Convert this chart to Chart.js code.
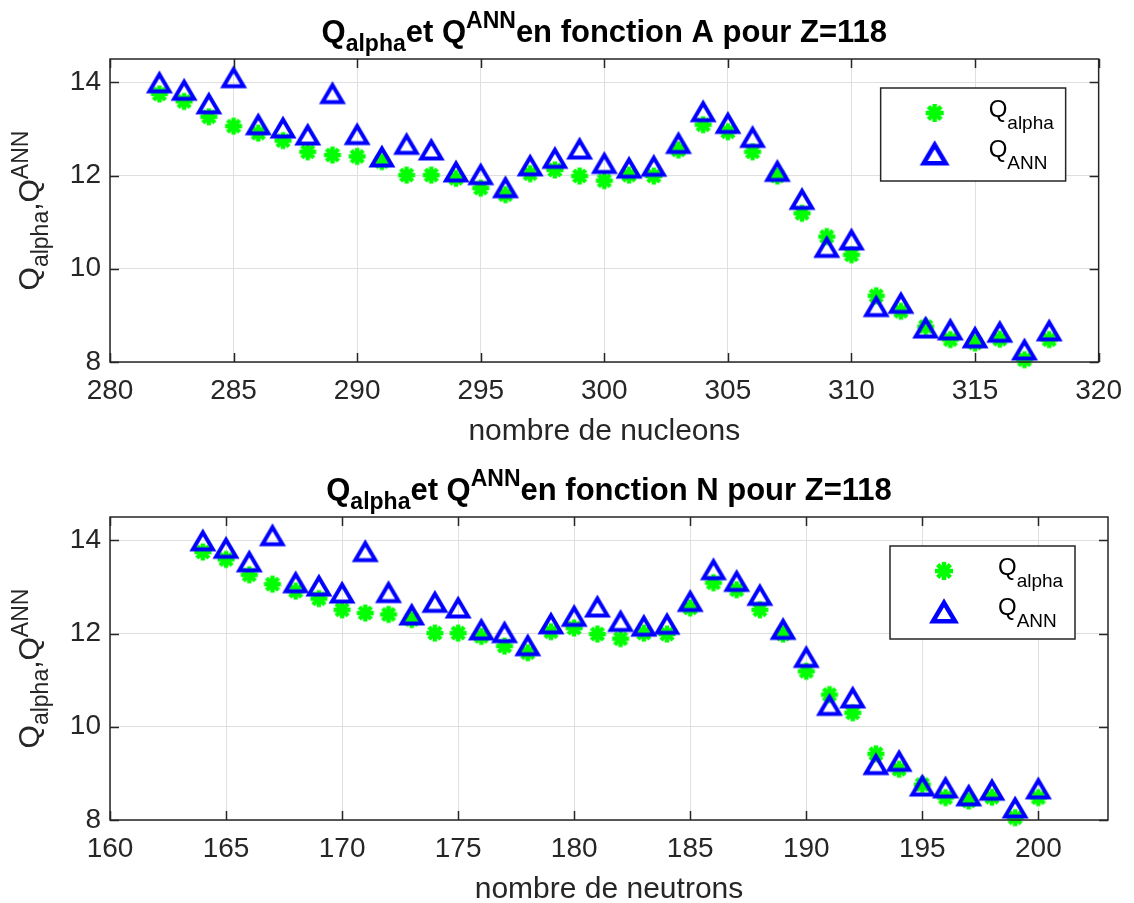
<!DOCTYPE html>
<html>
<head>
<meta charset="utf-8">
<script src="https://cdn.jsdelivr.net/npm/chart.js@4/dist/chart.umd.min.js"></script>
<style>
  html, body { margin: 0; padding: 0; background: #fff; }
  #wrap { position: relative; width: 1134px; height: 903px; }
  .box { position: absolute; left: 0; }
</style>
</head>
<body>
<div id="wrap">
  <div class="box" style="top:0"><canvas id="chart-a" width="1134" height="452"></canvas></div>
  <div class="box" style="top:452px"><canvas id="chart-n" width="1134" height="451"></canvas></div>
</div>
<script>
// mass number A and neutron number N (Z = 118)
const nucleons = [282, 283, 284, 285, 286, 287, 288, 289, 290, 291, 292, 293, 294, 295, 296, 297, 298, 299,
                  300, 301, 302, 303, 304, 305, 306, 307, 308, 309, 310, 311, 312, 313, 314, 315, 316, 317, 318];
const neutrons = [164, 165, 166, 167, 168, 169, 170, 171, 172, 173, 174, 175, 176, 177, 178, 179, 180, 181,
                  182, 183, 184, 185, 186, 187, 188, 189, 190, 191, 192, 193, 194, 195, 196, 197, 198, 199, 200];

const qAlpha = [13.75, 13.59, 13.26, 13.06, 12.91, 12.75, 12.51, 12.44, 12.41, 12.30, 12.01, 12.01, 11.94,
                11.73, 11.59, 12.04, 12.12, 11.99, 11.89, 12.01, 11.99, 12.55, 13.09, 12.94, 12.51, 11.99,
                11.19, 10.69, 10.30, 9.42, 9.09, 8.76, 8.48, 8.41, 8.49, 8.05, 8.48];
const qAnn   = [14.01, 13.85, 13.56, 14.12, 13.11, 13.04, 12.89, 13.78, 12.90, 12.42, 12.69, 12.57, 12.10,
                12.04, 11.76, 12.23, 12.39, 12.59, 12.28, 12.18, 12.22, 12.71, 13.39, 13.14, 12.84, 12.11,
                11.51, 10.48, 10.64, 9.21, 9.28, 8.75, 8.71, 8.54, 8.66, 8.28, 8.69];

const FONT = '"Liberation Sans", Arial, Helvetica, sans-serif';
const INK  = "#262626";
const GRID = "#dfdfdf";

// MATLAB-like markers drawn once on small canvases
function asteriskMarker(r, lw) {
  const c = document.createElement("canvas");
  const m = Math.ceil(r + lw) + 1;
  c.width = c.height = 2 * m;
  const g = c.getContext("2d");
  g.strokeStyle = "#00ff00";
  g.lineWidth = lw;
  for (let k = 0; k < 4; k++) {
    const a = k * Math.PI / 4, dx = Math.cos(a) * r, dy = Math.sin(a) * r;
    g.beginPath();
    g.moveTo(m - dx, m - dy);
    g.lineTo(m + dx, m + dy);
    g.stroke();
  }
  g.fillStyle = "#00ff00";
  g.beginPath();
  g.arc(m, m, r * 0.62, 0, Math.PI * 2);
  g.fill();
  return c;
}

function triangleMarker(hw, h, lw) {
  const c = document.createElement("canvas");
  c.width = c.height = 40;
  const g = c.getContext("2d");
  g.strokeStyle = "#0000ff";
  g.lineWidth = lw;
  g.lineJoin = "miter";
  g.beginPath();
  g.moveTo(20, 20 - h / 2 + 1);
  g.lineTo(20 + hw, 20 + h / 2 + 1);
  g.lineTo(20 - hw, 20 + h / 2 + 1);
  g.closePath();
  g.stroke();
  return c;
}

const STAR     = asteriskMarker(8.5, 4.5);
const TRI      = triangleMarker(10, 17, 4);
const STAR_LEG = asteriskMarker(9, 4.5);
const TRI_LEG  = triangleMarker(11, 18.5, 4.5);

// text with TeX-like sub/superscripts
function drawRich(ctx, parts, x, y, size, opt) {
  const small = Math.round(size * (opt.scale || 0.74));
  const w = opt.bold ? "bold " : "";
  let total = 0;
  parts.forEach(p => {
    ctx.font = `${w}${p.s ? small : size}px ${FONT}`;
    total += ctx.measureText(p.t).width;
  });
  let cx = opt.align === "center" ? x - total / 2 : x;
  ctx.textAlign = "left";
  ctx.textBaseline = "alphabetic";
  parts.forEach(p => {
    ctx.font = `${w}${p.s ? small : size}px ${FONT}`;
    const dy = p.s === "sub" ? size * (opt.sub || 0.3) : p.s === "sup" ? -size * (opt.sup || 0.45) : 0;
    ctx.fillText(p.t, cx, y + dy);
    cx += ctx.measureText(p.t).width;
  });
}

const Y_LABEL = [{ t: "Q" }, { t: "alpha", s: "sub" }, { t: "," }, { t: "Q" }, { t: "ANN", s: "sup" }];
const titleParts = what => [
  { t: "Q" }, { t: "alpha", s: "sub" }, { t: "et Q" }, { t: "ANN", s: "sup" },
  { t: `en fonction ${what} pour Z=118` },
];

const matlabFrame = {
  id: "matlabFrame",
  afterDraw(chart, args, o) {
    const { ctx, chartArea: a, scales: { x, y } } = chart;
    ctx.save();

    // inward tick marks on all four sides + box
    ctx.strokeStyle = INK;
    ctx.lineWidth = 1.5;
    ctx.beginPath();
    x.ticks.forEach(t => {
      const px = Math.round(x.getPixelForValue(t.value)) + 0.5;
      ctx.moveTo(px, a.bottom); ctx.lineTo(px, a.bottom - 9);
      ctx.moveTo(px, a.top);    ctx.lineTo(px, a.top + 9);
    });
    y.ticks.forEach(t => {
      const py = Math.round(y.getPixelForValue(t.value)) + 0.5;
      ctx.moveTo(a.left, py);  ctx.lineTo(a.left + 9, py);
      ctx.moveTo(a.right, py); ctx.lineTo(a.right - 9, py);
    });
    ctx.stroke();
    ctx.strokeRect(a.left, a.top, a.right - a.left, a.bottom - a.top);

    // title
    ctx.fillStyle = "#000";
    drawRich(ctx, titleParts(o.what), (a.left + a.right) / 2, o.titleY, 31, { bold: true, align: "center" });

    // x label
    ctx.fillStyle = INK;
    ctx.font = `30px ${FONT}`;
    ctx.textAlign = "center";
    ctx.textBaseline = "middle";
    ctx.fillText(o.xLabel, (a.left + a.right) / 2, a.bottom + 70);

    // y label
    ctx.save();
    ctx.translate(39, (a.top + a.bottom) / 2);
    ctx.rotate(-Math.PI / 2);
    drawRich(ctx, Y_LABEL, 0, 0, 30, { align: "center", scale: 0.78, sup: 0.36, sub: 0.3 });
    ctx.restore();

    // legend
    const lx = a.right - 218, ly = a.top + 29;
    ctx.fillStyle = "#fff";
    ctx.fillRect(lx, ly, 185, 93);
    ctx.strokeStyle = INK;
    ctx.lineWidth = 1.5;
    ctx.strokeRect(lx, ly, 185, 93);
    const rows = [
      { img: STAR_LEG, parts: [{ t: "Q" }, { t: "alpha", s: "sub" }], dy: 25 },
      { img: TRI_LEG,  parts: [{ t: "Q" }, { t: "ANN", s: "sub" }],   dy: 65 },
    ];
    rows.forEach(r => {
      ctx.drawImage(r.img, lx + 54 - r.img.width / 2, ly + r.dy - r.img.height / 2);
      ctx.fillStyle = "#000";
      drawRich(ctx, r.parts, lx + 108, ly + r.dy + 4, 24, { align: "left", scale: 0.8, sub: 0.5 });
    });

    ctx.restore();
  },
};

function makeChart(id, xs, xMin, xMax, opts) {
  const pts = vals => xs.map((v, i) => ({ x: v, y: vals[i] }));
  return new Chart(document.getElementById(id), {
    type: "scatter",
    data: {
      datasets: [
        { label: "Q_ANN",   data: pts(qAnn),   pointStyle: TRI,  pointRadius: 12, showLine: false, clip: false },
        { label: "Q_alpha", data: pts(qAlpha), pointStyle: STAR, pointRadius: 9,  showLine: false, clip: false },
      ],
    },
    options: {
      responsive: false,
      animation: false,
      events: [],
      layout: { padding: { top: opts.top, right: 26, left: 0, bottom: 0 } },
      plugins: { legend: { display: false }, tooltip: { enabled: false }, matlabFrame: opts },
      scales: {
        x: {
          type: "linear",
          min: xMin, max: xMax,
          afterFit: s => { s.height = opts.xHeight; },
          border: { display: false },
          grid: { color: GRID, lineWidth: 1, drawTicks: false },
          ticks: { stepSize: 5, includeBounds: false, padding: 12, color: INK, font: { family: FONT, size: 28 } },
        },
        y: {
          min: 8, max: 14.5,
          afterFit: s => { s.width = 110; },
          border: { display: false },
          grid: { color: GRID, lineWidth: 1, drawTicks: false },
          ticks: { stepSize: 2, includeBounds: false, padding: 9, color: INK, font: { family: FONT, size: 28 } },
        },
      },
    },
    plugins: [matlabFrame],
  });
}

makeChart("chart-a", nucleons, 280, 320, { top: 59, xHeight: 90, titleY: 42, what: "A", xLabel: "nombre de nucleons" });
makeChart("chart-n", neutrons, 160, 203, { top: 65, xHeight: 83, titleY: 48, what: "N", xLabel: "nombre de neutrons" });
</script>
</body>
</html>
